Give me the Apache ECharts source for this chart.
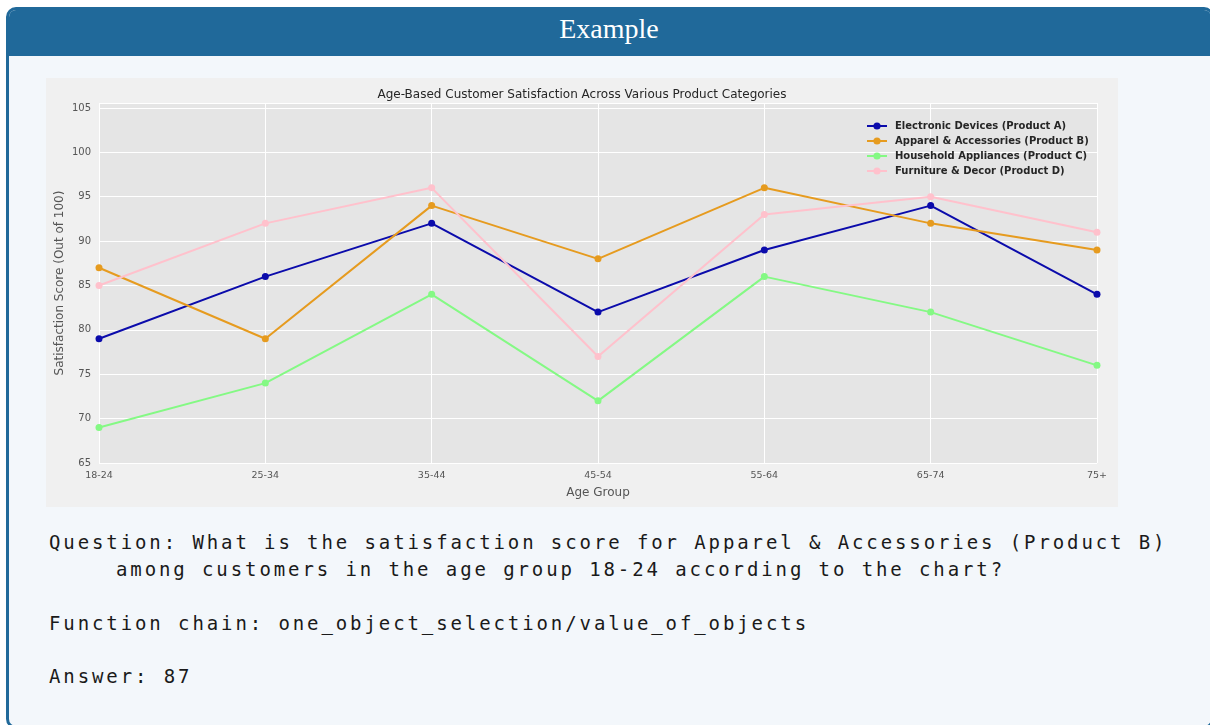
<!DOCTYPE html>
<html>
<head>
<meta charset="utf-8">
<script src="https://cdn.jsdelivr.net/npm/echarts@6/dist/echarts.min.js"></script>
<style>
  html, body { margin: 0; padding: 0; background: #ffffff; width: 1210px; height: 725px; overflow: hidden; }
  .card {
    position: absolute;
    left: 6px;
    top: 7px;
    width: 1202px;
    height: 716px;
    border: 3px solid #20699a;
    border-radius: 10px;
    background: #f3f7fb;
    overflow: hidden;
  }
  .card-head {
    height: 46px;
    background: #20699a;
    color: #ffffff;
    font-family: "Liberation Serif", "DejaVu Serif", serif;
    font-size: 28px;
    line-height: 38px;
    text-align: center;
    padding-right: 2px;
  }
  .chart {
    position: absolute;
    left: 46px;
    top: 78px;
    width: 1072px;
    height: 429px;
    background: #f0f0f0;
  }
  .qa {
    position: absolute;
    left: 49px;
    top: 529px;
    width: 1160px;
    font-family: "DejaVu Sans Mono", "Liberation Mono", monospace;
    font-size: 19px;
    letter-spacing: 2.9px;
    color: #1a1a1a;
    line-height: 27px;
  }
  .qa p { margin: 0 0 26.5px 0; }
  .qa .hang { padding-left: 67px; text-indent: -67px; }
</style>
</head>
<body>
<div class="card">
  <div class="card-head">Example</div>
</div>
<div class="chart" id="main"></div>
<div class="qa">
  <p class="hang">Question: What is the satisfaction score for Apparel &amp; Accessories (Product B) among customers in the age group 18-24 according to the chart?</p>
  <p>Function chain: one_object_selection/value_of_objects</p>
  <p>Answer: 87</p>
</div>
<script>
// age groups on the x axis
const ageGroups = ["18-24", "25-34", "35-44", "45-54", "55-64", "65-74", "75+"];

// satisfaction scores
const productA = [79, 86, 92, 82, 89, 94, 84];
const productB = [87, 79, 94, 88, 96, 92, 89];
const productC = [69, 74, 84, 72, 86, 82, 76];
const productD = [85, 92, 96, 77, 93, 95, 91];

const seriesNames = [
  "Electronic Devices (Product A)",
  "Apparel & Accessories (Product B)",
  "Household Appliances (Product C)",
  "Furniture & Decor (Product D)"
];
const seriesColors = ["#0b0bab", "#e69b1f", "#84f984", "#ffc1cc"];
const seriesData = [productA, productB, productC, productD];

const chartInstance = echarts.init(document.getElementById("main"), null, { renderer: "canvas" });

const option = {
  backgroundColor: "#f0f0f0",
  animation: false,
  textStyle: { fontFamily: "DejaVu Sans" },
  title: {
    text: "Age-Based Customer Satisfaction Across Various Product Categories",
    left: "center",
    top: 6,
    textStyle: { fontSize: 12, fontWeight: "normal", color: "#262626", fontFamily: "DejaVu Sans" }
  },
  grid: {
    left: 53,
    right: 21,
    top: 25,
    bottom: 44,
    outerBoundsMode: "none",
    containLabel: false,
    show: true,
    backgroundColor: "#e5e5e5",
    borderWidth: 0
  },
  legend: {
    orient: "vertical",
    left: 815,
    top: 38,
    itemGap: 5,
    itemWidth: 20,
    itemHeight: 9,
    data: seriesNames,
    textStyle: { fontSize: 10, fontWeight: "bold", color: "#262626", fontFamily: "DejaVu Sans", padding: [0, 0, 0, 3] }
  },
  xAxis: {
    type: "category",
    data: ageGroups,
    boundaryGap: false,
    name: "Age Group",
    nameLocation: "middle",
    nameGap: 24,
    nameTextStyle: { fontSize: 12, color: "#555555" },
    axisLine: { show: false },
    axisTick: { show: false },
    axisLabel: { fontSize: 9.5, color: "#555555", margin: 8 },
    splitLine: { show: true, lineStyle: { color: "#ffffff", width: 1 } }
  },
  yAxis: {
    type: "value",
    min: 65,
    max: 105.56,
    interval: 5,
    name: "Satisfaction Score (Out of 100)",
    nameLocation: "middle",
    nameGap: 33,
    nameMoveOverlap: false,
    nameTextStyle: { fontSize: 12, color: "#555555" },
    axisLine: { show: false },
    axisTick: { show: false },
    axisLabel: { fontSize: 10, color: "#555555", margin: 8, showMaxLabel: false },
    splitLine: { show: true, lineStyle: { color: "#ffffff", width: 1 } }
  },
  series: seriesData.map((data, i) => ({
    name: seriesNames[i],
    type: "line",
    data: data,
    color: seriesColors[i],
    symbol: "circle",
    symbolSize: 7,
    lineStyle: { width: 2, color: seriesColors[i] },
    itemStyle: { color: seriesColors[i] }
  }))
};

chartInstance.setOption(option);
</script>
</body>
</html>
